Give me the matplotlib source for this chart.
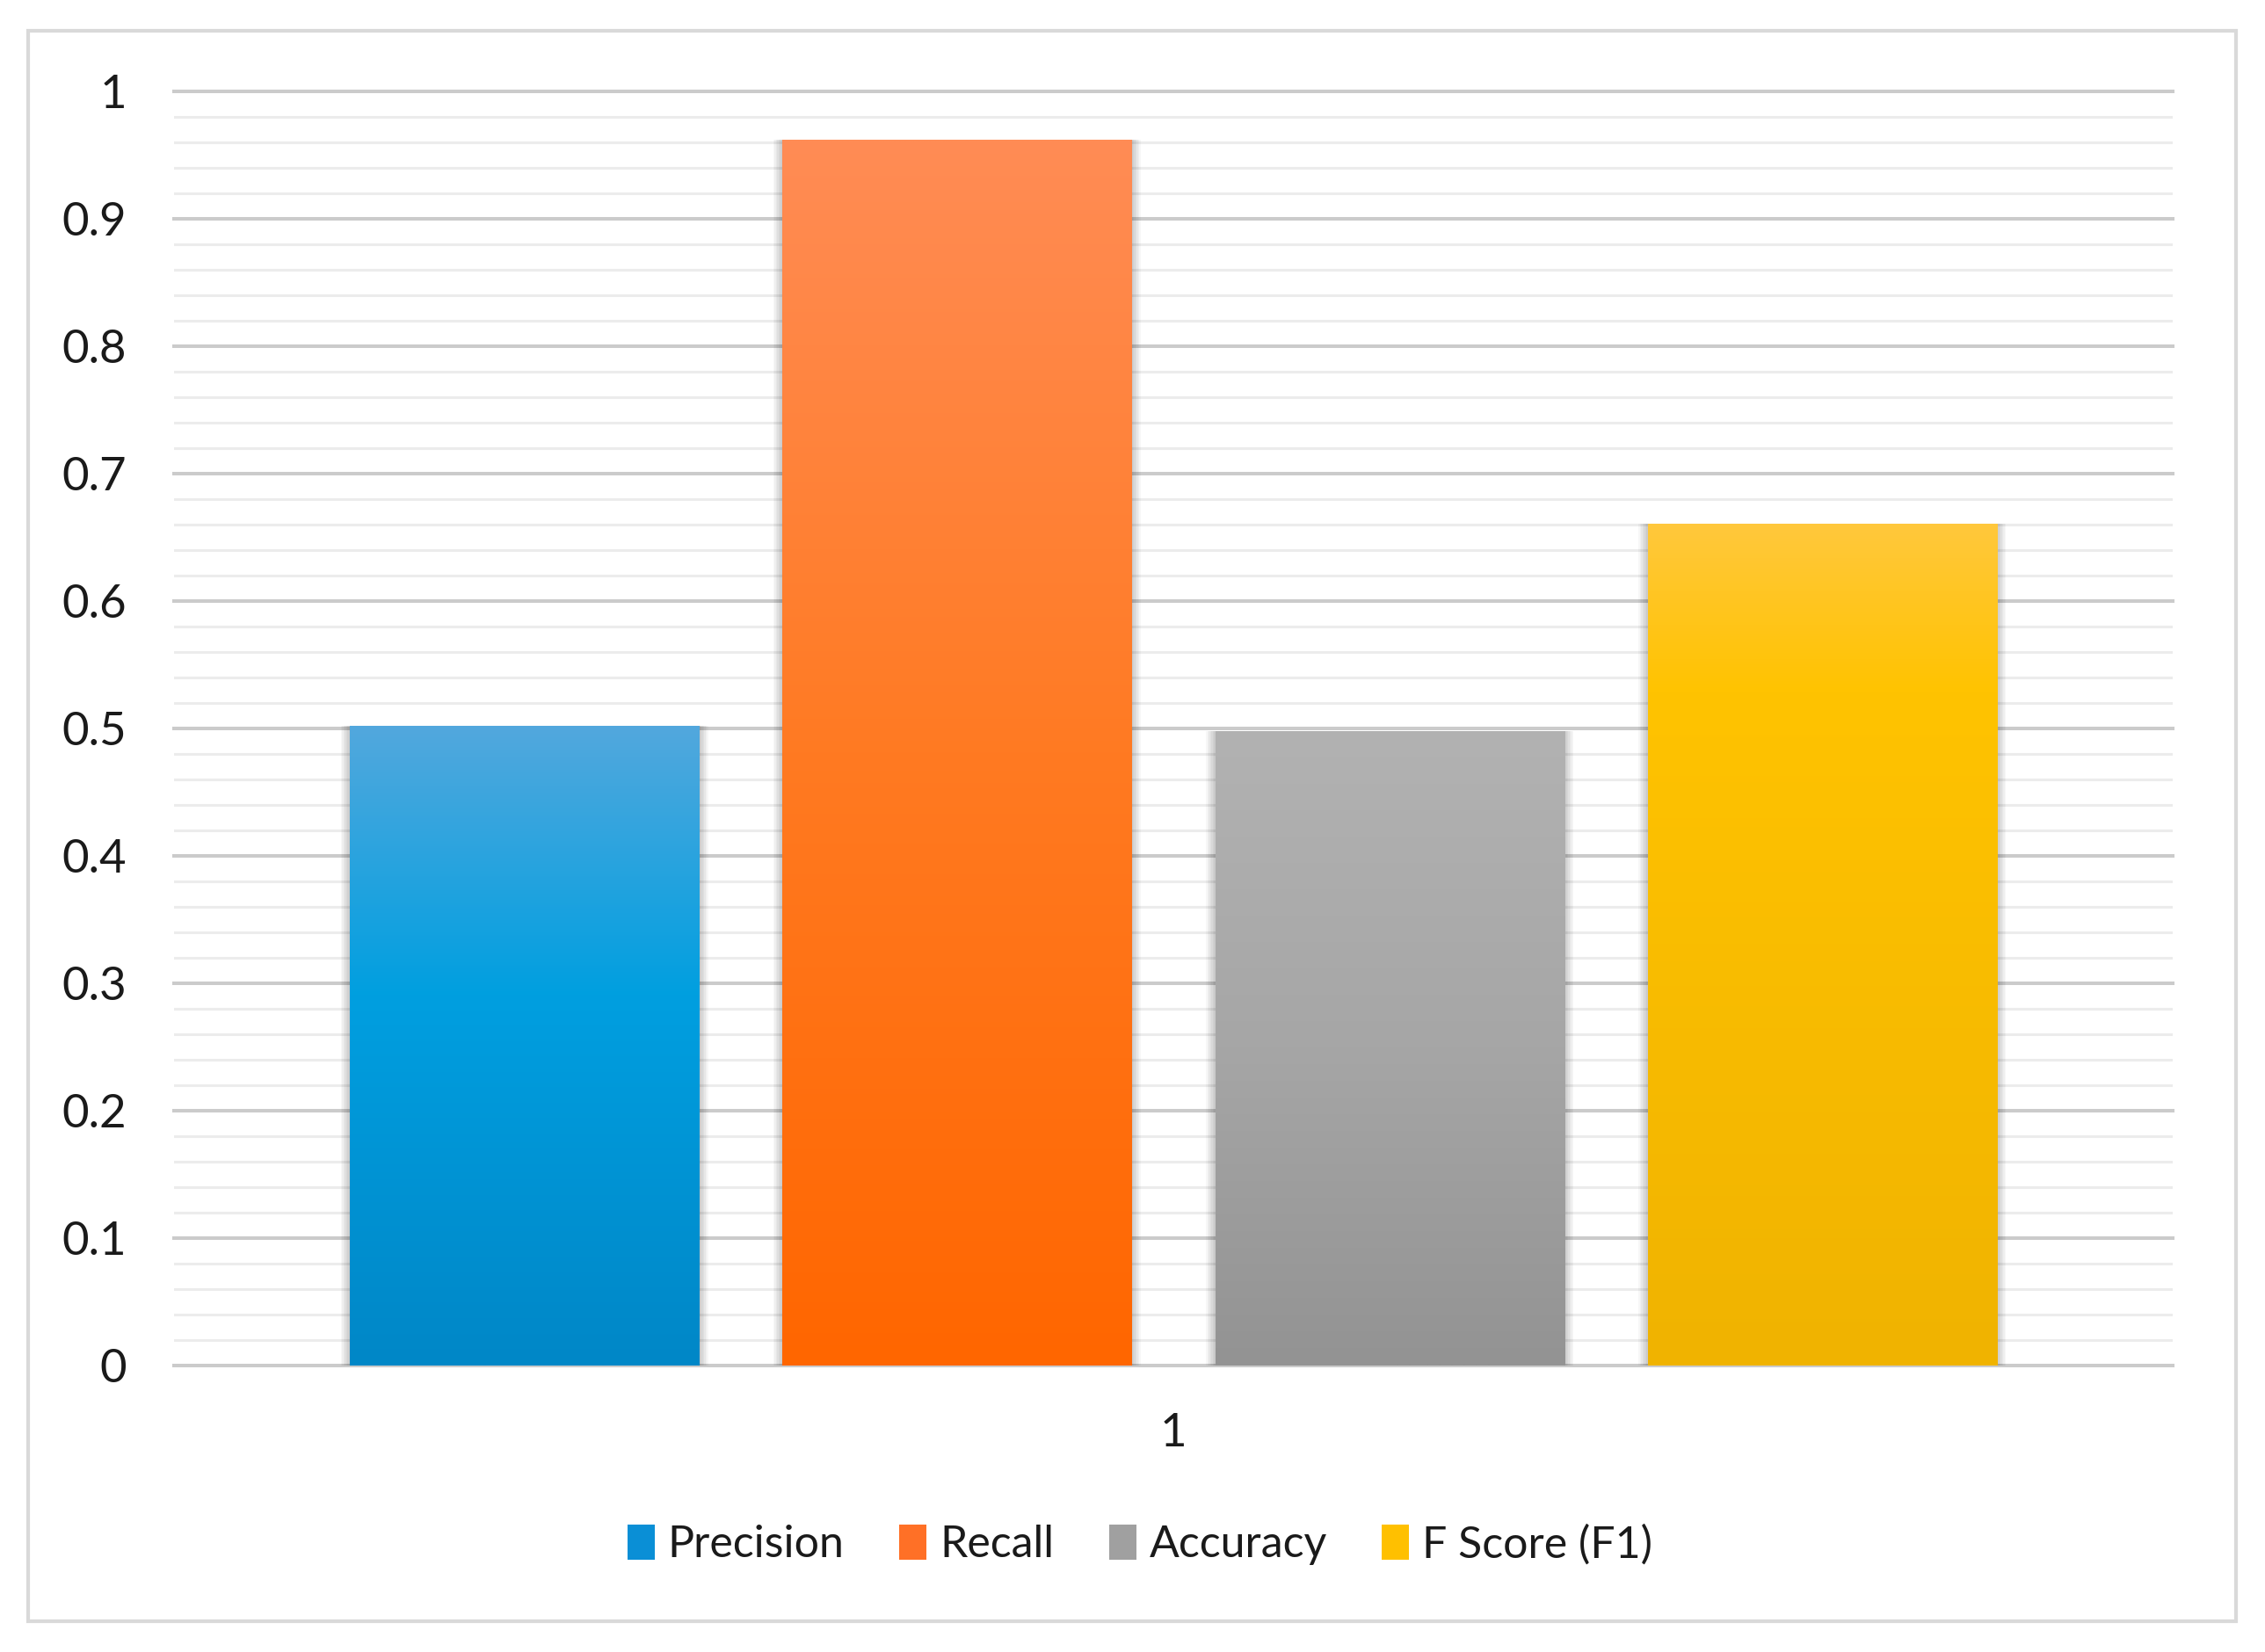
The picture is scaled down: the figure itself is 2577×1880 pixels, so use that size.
import numpy as np
import matplotlib
matplotlib.use("Agg")
import matplotlib.pyplot as plt
from matplotlib import font_manager
from matplotlib.colors import to_rgb
from matplotlib.patches import Rectangle, Patch

# ---- data ----
categories = ["1"]
series_names = ["Precision", "Recall", "Accuracy", "F Score (F1)"]
series_values = [0.502, 0.962, 0.498, 0.661]
y_ticks = [0, 0.1, 0.2, 0.3, 0.4, 0.5, 0.6, 0.7, 0.8, 0.9, 1]
y_tick_labels = ["0", "0.1", "0.2", "0.3", "0.4", "0.5", "0.6", "0.7", "0.8", "0.9", "1"]

# gradient stops (fraction from top, colour)
gradients = [
    [(0.0, "#52a8dd"), (0.42, "#009fe0"), (1.0, "#0087c7")],
    [(0.0, "#ff8c55"), (0.5, "#ff7a22"), (1.0, "#ff6600")],
    [(0.0, "#b2b2b2"), (0.5, "#a6a6a6"), (1.0, "#939393")],
    [(0.0, "#ffc83c"), (0.2, "#ffc300"), (1.0, "#f0b300")],
]
legend_colors = ["#0a8fd6", "#ff7026", "#a0a0a0", "#ffc000"]

# ---- font ----
names = {f.name for f in font_manager.fontManager.ttflist}
main_font = "Lato" if "Lato" in names else "DejaVu Sans"
plt.rcParams["font.family"] = [main_font, "DejaVu Sans"]

W, H = 2577, 1880
fig = plt.figure(figsize=(W / 100, H / 100), dpi=100)
fig.patch.set_facecolor("white")

# outer frame
fig.patches.append(Rectangle((32 / W, 1 - 1845 / H), (2544 - 32) / W, (1845 - 35) / H,
                             transform=fig.transFigure, fill=False,
                             edgecolor="#d9d9d9", linewidth=3.0))

ax_l, ax_r, ax_t, ax_b = 198, 2472, 104, 1554
ax = fig.add_axes([ax_l / W, 1 - ax_b / H, (ax_r - ax_l) / W, (ax_b - ax_t) / H])
ax.set_facecolor("white")
for s in ax.spines.values():
    s.set_visible(False)

ax.set_xlim(0.5, 1.5)
ax.set_ylim(0, 1)

bar_w = 0.1746
step = 0.2164
n = len(series_names)
px = 1.0 / (ax_r - ax_l)  # data units per pixel (x)

bars = []
for i, (name, val) in enumerate(zip(series_names, series_values)):
    xc = 1 + (i - (n - 1) / 2) * step
    # soft side shadow
    for k in range(1, 8):
        ax.bar([xc], [val], width=bar_w + 2 * k * px * 1.5, color="black",
               alpha=0.03, zorder=2, linewidth=0)
    b = ax.bar([xc], [val], width=bar_w, color=legend_colors[i], zorder=3,
               linewidth=0, label=name)[0]
    bars.append(b)

# gradient fills clipped to each bar
for b, stops in zip(bars, gradients):
    x0, y0 = b.get_x(), b.get_y()
    w, h = b.get_width(), b.get_height()
    N = 256
    t = np.linspace(0, 1, N)  # from top
    fr = [s[0] for s in stops]
    cols = np.array([to_rgb(s[1]) for s in stops])
    img = np.zeros((N, 1, 3))
    for c in range(3):
        img[:, 0, c] = np.interp(t, fr, cols[:, c])
    im = ax.imshow(img, extent=[x0, x0 + w, y0, y0 + h], aspect="auto",
                   origin="upper", zorder=4, interpolation="bilinear")
    im.set_clip_path(b)

ax.set_xlim(0.5, 1.5)
ax.set_ylim(0, 1)

# grid
ax.set_yticks(y_ticks)
ax.set_yticklabels(y_tick_labels)
ax.set_yticks(np.arange(0, 1.0001, 0.02), minor=True)
ax.yaxis.grid(True, which="major", color="#cbcbcb", linewidth=2.9)
ax.yaxis.grid(True, which="minor", color="#ececec", linewidth=2.2)
ax.xaxis.grid(False)
ax.set_axisbelow(True)
for ln in ax.get_ygridlines():
    ln.set_clip_on(False)
for ln in ax.yaxis.get_minorticklines():
    ln.set_visible(False)

ax.set_xticks([1])
ax.set_xticklabels(categories)

ax.tick_params(axis="y", which="both", length=0, pad=39, labelsize=38, labelcolor="#1a1a1a")
ax.tick_params(axis="x", which="both", length=0, pad=39, labelsize=38, labelcolor="#1a1a1a")

handles = [Patch(facecolor=c, edgecolor="none") for c in legend_colors]
fig.legend(handles, series_names, loc="center",
           bbox_to_anchor=(1297 / W, 1 - 1758 / H), ncol=4, frameon=False,
           fontsize=36, handlelength=0.62, handleheight=0.85,
           handletextpad=0.3, columnspacing=1.25, labelcolor="#1a1a1a")

fig.savefig("out.png", dpi=100, facecolor="white")
